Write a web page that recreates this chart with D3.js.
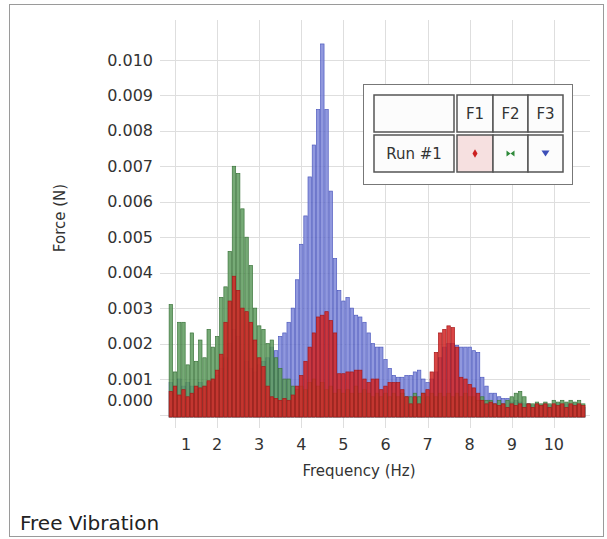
<!DOCTYPE html>
<html>
<head>
<meta charset="utf-8">
<title>Free Vibration</title>
<script src="https://d3js.org/d3.v7.min.js"></script>
<style>
  body { margin: 0; background: #fff; }
  text { font-family: "DejaVu Sans", sans-serif; }
</style>
</head>
<body>
<svg width="607" height="539"></svg>
<script>
// frequency bins (Hz)
const freq = [0.9,1.0,1.1,1.2,1.3,1.4,1.5,1.6,1.7,1.8,1.9,2.0,2.1,2.2,2.3,2.4,2.5,2.6,2.7,2.8,2.9,
  3.0,3.1,3.2,3.3,3.4,3.5,3.6,3.7,3.8,3.9,4.0,4.1,4.2,4.3,4.4,4.5,4.6,4.7,4.8,4.9,
  5.0,5.1,5.2,5.3,5.4,5.5,5.6,5.7,5.8,5.9,6.0,6.1,6.2,6.3,6.4,6.5,6.6,6.7,6.8,6.9,
  7.0,7.1,7.2,7.3,7.4,7.5,7.6,7.7,7.8,7.9,8.0,8.1,8.2,8.3,8.4,8.5,8.6,8.7,8.8,8.9,
  9.0,9.1,9.2,9.3,9.4,9.5,9.6,9.7,9.8,9.9,10.0,10.1,10.2,10.3,10.4,10.5,10.6,10.7];

// force per bin (N)
const f1 = [0.00065,0.0008,0.00055,0.0007,0.0005,0.0006,0.0008,0.00075,0.0008,0.00095,0.001,
  0.00125,0.0017,0.0026,0.0032,0.0039,0.0035,0.003,0.0029,0.0026,0.0021,
  0.0016,0.00135,0.0008,0.0005,0.00045,0.0004,0.00045,0.0004,0.00055,0.0008,
  0.0011,0.0015,0.0019,0.0023,0.00275,0.0028,0.0029,0.00265,0.0023,0.00115,
  0.00115,0.0012,0.0012,0.00125,0.00125,0.001,0.0009,0.001,0.001,0.0007,
  0.0008,0.0009,0.0009,0.0009,0.0007,0.0005,0.0003,0.0005,0.0003,0.0006,
  0.0007,0.0012,0.00175,0.0023,0.0024,0.0025,0.00245,0.0019,0.00105,0.001,
  0.00085,0.00075,0.0006,0.0004,0.0003,0.00035,0.0003,0.00025,0.0003,0.0002,
  0.0003,0.00025,0.0003,0.0002,0.0003,0.0002,0.0003,0.00025,0.0003,0.0002,
  0.0003,0.00025,0.0003,0.0002,0.0003,0.00025,0.0003,0.00025];
const f2 = [0.0031,0.0012,0.0026,0.0026,0.0014,0.0023,0.0015,0.0021,0.0016,0.0024,0.0019,
  0.0022,0.0033,0.0036,0.0046,0.007,0.0068,0.0058,0.005,0.0042,0.003,
  0.0025,0.0024,0.002,0.0021,0.0016,0.0013,0.001,0.001,0.0008,0.0007,
  0.0008,0.0007,0.0009,0.001,0.0008,0.0009,0.0007,0.0008,0.0006,0.0007,
  0.0006,0.0007,0.0006,0.0008,0.0006,0.0007,0.0006,0.0005,0.0006,0.0005,
  0.0006,0.0005,0.0006,0.0005,0.0006,0.0005,0.0005,0.0006,0.0005,0.0006,
  0.0005,0.0006,0.0005,0.0006,0.0005,0.0006,0.0005,0.0006,0.0005,0.0006,
  0.0005,0.0005,0.0004,0.0005,0.0004,0.0004,0.0003,0.0004,0.0003,0.0004,
  0.0005,0.0006,0.00065,0.0005,0.0003,0.0003,0.00035,0.0003,0.00035,0.0003,
  0.0004,0.00035,0.0004,0.00035,0.0004,0.00035,0.0004,0.0003];
const f3 = [0.0009,0.0008,0.001,0.0008,0.0009,0.0008,0.0007,0.0009,0.0008,0.0009,0.001,
  0.0011,0.0013,0.0016,0.002,0.0024,0.0022,0.0018,0.0015,0.0013,0.0012,
  0.0014,0.0015,0.0016,0.0019,0.0018,0.0022,0.0023,0.0026,0.003,0.0038,
  0.0048,0.0056,0.0067,0.0076,0.0086,0.01045,0.0086,0.0063,0.0044,0.0035,
  0.0032,0.0033,0.003,0.0028,0.00275,0.0026,0.0023,0.002,0.0019,0.0019,
  0.00155,0.0013,0.0011,0.00105,0.00105,0.0011,0.0011,0.0012,0.00125,0.001,
  0.0009,0.001,0.0012,0.0016,0.0019,0.002,0.002,0.00195,0.0019,0.0019,
  0.0019,0.0018,0.00175,0.00105,0.0008,0.0006,0.0006,0.0005,0.00045,0.00045,
  0.00035,0.0004,0.00035,0.0003,0.0003,0.00025,0.0003,0.00025,0.0003,0.00025,
  0.00025,0.0003,0.00025,0.0003,0.00025,0.0003,0.00025,0.0002];

const xTicks = [1,2,3,4,5,6,7,8,9,10];
const yTicks = [0,0.001,0.002,0.003,0.004,0.005,0.006,0.007,0.008,0.009,0.010];

const series = [
  {name: "F3", values: f3, fill: "#7d86d8", stroke: "#4f5bbf"},
  {name: "F2", values: f2, fill: "#5e9b5e", stroke: "#3c763c"},
  {name: "F1", values: f1, fill: "#d42424", stroke: "#a81818"}
];

const svg = d3.select("svg");

// outer frame
svg.append("rect").attr("x", 9.5).attr("y", 4.5).attr("width", 594).attr("height", 532)
  .attr("fill", "none").attr("stroke", "#9a9a9a");

const x = d3.scaleLinear().domain([0.88, 10.86]).range([170, 590]);
const y = d3.scaleLinear().domain([0, 0.0109]).range([414.5, 28]);
const base = 417;

// grid
svg.append("g").selectAll("line").data(yTicks).enter().append("line")
  .attr("x1", 160).attr("x2", 590)
  .attr("y1", d => Math.round(y(d)) + 0.5).attr("y2", d => Math.round(y(d)) + 0.5)
  .attr("stroke", "#dedede");
svg.append("g").selectAll("line").data(xTicks).enter().append("line")
  .attr("y1", 20).attr("y2", 428)
  .attr("x1", d => Math.round(x(d)) + 0.5).attr("x2", d => Math.round(x(d)) + 0.5)
  .attr("stroke", "#dedede");

// bars
const bw = x(1.0) - x(0.9);
series.forEach(s => {
  svg.append("g").selectAll("rect").data(s.values).enter().append("rect")
    .attr("x", (d, i) => x(freq[i]) - bw / 2 + 0.4)
    .attr("width", bw - 0.8)
    .attr("y", d => y(d))
    .attr("height", d => base - y(d))
    .attr("fill", s.fill)
    .attr("fill-opacity", 0.85)
    .attr("stroke", s.stroke)
    .attr("stroke-width", 0.7);
});

// y tick labels (0.000 is pushed up in the original)
svg.append("g").selectAll("text").data(yTicks).enter().append("text")
  .attr("x", 153)
  .attr("y", d => y(d) + (d === 0 ? -14 : 0))
  .attr("dy", "0.35em")
  .attr("text-anchor", "end")
  .attr("font-size", 16)
  .attr("fill", "#333")
  .text(d => d3.format(".3f")(d));

// x tick labels (first one nudged right in the original)
svg.append("g").selectAll("text").data(xTicks).enter().append("text")
  .attr("x", d => x(d) + (d === 1 ? 11 : 0))
  .attr("y", 444)
  .attr("dy", "0.35em")
  .attr("text-anchor", "middle")
  .attr("font-size", 16)
  .attr("fill", "#333")
  .text(d => d);

svg.append("text").attr("x", 359).attr("y", 471).attr("dy", "0.35em")
  .attr("text-anchor", "middle").attr("font-size", 15).attr("fill", "#333")
  .text("Frequency (Hz)");
svg.append("text").attr("transform", "translate(60,218) rotate(-90)").attr("dy", "0.35em")
  .attr("text-anchor", "middle").attr("font-size", 15).attr("fill", "#333")
  .text("Force (N)");

svg.append("text").attr("x", 20).attr("y", 530).attr("font-size", 20).attr("fill", "#222")
  .text("Free Vibration");

// legend table
const lg = svg.append("g");
lg.append("rect").attr("x", 363.5).attr("y", 84.5).attr("width", 209).attr("height", 100)
  .attr("fill", "#fff").attr("stroke", "#777");
const cellStyle = sel => sel.attr("fill", "#fcfcfc").attr("stroke", "#555").attr("stroke-width", 1.5);
const cols = [{x: 457, w: 36}, {x: 493, w: 35}, {x: 528, w: 35}];
lg.append("rect").attr("x", 374).attr("y", 95).attr("width", 80).attr("height", 37).call(cellStyle);
lg.append("rect").attr("x", 374).attr("y", 135).attr("width", 80).attr("height", 37).call(cellStyle);
lg.append("text").attr("x", 414).attr("y", 154).attr("dy", "0.35em").attr("text-anchor", "middle")
  .attr("font-size", 15).attr("fill", "#333").text("Run #1");
const names = ["F1", "F2", "F3"];
cols.forEach((c, i) => {
  lg.append("rect").attr("x", c.x).attr("y", 95).attr("width", c.w).attr("height", 37).call(cellStyle);
  lg.append("text").attr("x", c.x + c.w / 2).attr("y", 114).attr("dy", "0.35em").attr("text-anchor", "middle")
    .attr("font-size", 15).attr("fill", "#333").text(names[i]);
  lg.append("rect").attr("x", c.x).attr("y", 135).attr("width", c.w).attr("height", 37).call(cellStyle)
    .attr("fill", i === 0 ? "#f6e0e0" : "#fcfcfc");
});
const my = 153.5;
// F1 diamond
lg.append("path").attr("d", d3.symbol(d3.symbolDiamond, 22)())
  .attr("transform", `translate(${cols[0].x + cols[0].w / 2},${my})`).attr("fill", "#cc2020");
// F2 bowtie
const bx = cols[1].x + cols[1].w / 2;
lg.append("path").attr("d", `M${bx-4},${my-3}L${bx},${my}L${bx-4},${my+3}Z M${bx+4},${my-3}L${bx},${my}L${bx+4},${my+3}Z`)
  .attr("fill", "#2e8a3a");
// F3 down triangle
const tx = cols[2].x + cols[2].w / 2;
lg.append("path").attr("d", `M${tx-4},${my-3}L${tx+4},${my-3}L${tx},${my+3}Z`).attr("fill", "#3d4fb8");
</script>
</body>
</html>
